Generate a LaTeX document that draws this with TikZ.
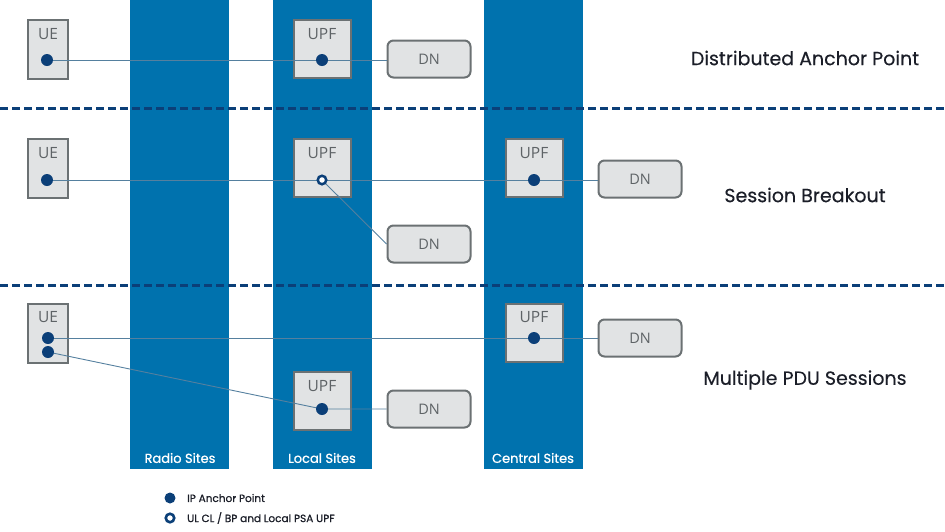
\documentclass[tikz,border=0pt]{standalone}
\usepackage{fontspec}
\setmainfont{Poppins}
\newfontfamily\boxfont{Open Sans}
\newfontfamily\mediumfont[FakeBold=0.8]{Poppins}
\newfontfamily\titlefont[FakeBold=0.3]{Poppins}

\definecolor{siteblue}{HTML}{0072AE}
\definecolor{anchornavy}{HTML}{0B3F78}
\definecolor{linkblue}{HTML}{55809F}
\definecolor{boxfill}{HTML}{E1E3E4}
\definecolor{boxedge}{HTML}{6B7173}
\definecolor{boxtext}{HTML}{5E6366}
\definecolor{headtext}{HTML}{1B1E28}

\tikzset{
  uebox/.style={draw=boxedge, line width=2pt, fill=boxfill, minimum width=40pt, minimum height=59pt, inner sep=0pt},
  upfbox/.style={draw=boxedge, line width=2pt, fill=boxfill, minimum width=57pt, minimum height=58pt, inner sep=0pt},
  dnbox/.style={draw=boxedge, line width=2pt, fill=boxfill, rounded corners=6pt, minimum width=83pt, minimum height=37pt, inner sep=0pt, font=\boxfont\fontsize{14.5}{16}\selectfont, text=boxtext},
  boxlabel/.style={font=\boxfont\fontsize{15.5}{17}\selectfont, text=boxtext, inner sep=0pt},
  ipdot/.style={circle, fill=anchornavy, minimum size=12pt, inner sep=0pt},
  ulcldot/.style={circle, draw=anchornavy, line width=2.5pt, fill=white, minimum size=8.5pt, inner sep=0pt},
  link/.style={draw=linkblue, line width=0.9pt},
  sitelabel/.style={font=\mediumfont\fontsize{13}{15}\selectfont, text=white, inner sep=0pt},
  rowtitle/.style={font=\titlefont\fontsize{19}{22}\selectfont, text=headtext, inner sep=0pt},
  legendtext/.style={font=\mediumfont\fontsize{10.5}{12}\selectfont, text=headtext, anchor=west, inner sep=0pt},
  rowsep/.style={draw=anchornavy, line width=3pt, dash pattern=on 8pt off 4pt}
}

\begin{document}
\begin{tikzpicture}[x=1pt,y=1pt,yscale=-1]
\useasboundingbox (0,0) rectangle (945,531);

% Site columns
\fill[siteblue] (130,0) rectangle (229,469);
\fill[siteblue] (273,0) rectangle (372,469);
\fill[siteblue] (484,0) rectangle (583,469);
\node[sitelabel] (radio) at (180,458) {Radio Sites};
\node[sitelabel] (local) at (322,458) {Local Sites};
\node[sitelabel] (central) at (533,458) {Central Sites};

% Row separators
\draw[rowsep] (0,108) -- (945,108);
\draw[rowsep] (0,285) -- (945,285);

% Row 1: distributed anchor point
\node[uebox] (ue1) at (48,49.5) {};
\node[boxlabel] (ue1txt) at (48,34) {UE};
\node[upfbox] (upf1) at (322.5,49) {};
\node[boxlabel] (upf1txt) at (322,34) {UPF};
\node[dnbox] (dn1) at (429,59) {DN};
\coordinate (ue1pt) at (47,60);
\coordinate (upf1pt) at (322,60);

% Row 2: session breakout
\node[uebox] (ue2) at (48,168) {};
\node[boxlabel] (ue2txt) at (48,153) {UE};
\node[upfbox] (upf2) at (322.5,168) {};
\node[boxlabel] (upf2txt) at (322,153) {UPF};
\node[upfbox] (upf2c) at (534,167.5) {};
\node[boxlabel] (upf2ctxt) at (534,153) {UPF};
\node[dnbox] (dn2c) at (640,179) {DN};
\node[dnbox] (dn2) at (429,244) {DN};
\coordinate (ue2pt) at (47,180);
\coordinate (upf2pt) at (322,180);
\coordinate (upf2cpt) at (534,180);

% Row 3: multiple PDU sessions
\node[uebox] (ue3) at (48,333) {};
\node[boxlabel] (ue3txt) at (48,317) {UE};
\node[upfbox] (upf3c) at (534,332.5) {};
\node[boxlabel] (upf3ctxt) at (534,317) {UPF};
\node[dnbox] (dn3c) at (640,338) {DN};
\node[upfbox] (upf3) at (322.5,401) {};
\node[boxlabel] (upf3txt) at (322,386) {UPF};
\node[dnbox] (dn3) at (429,409) {DN};
\coordinate (ue3apt) at (48,338);
\coordinate (ue3bpt) at (48,352);
\coordinate (upf3cpt) at (534,338);
\coordinate (upf3pt) at (322,409);

% Connectors
\draw[link] (ue1pt) -- (ue1pt -| dn1.west);
\draw[link] (ue2pt) -- (ue2pt -| dn2c.west);
\draw[link] (upf2pt) -- (dn2.west);
\draw[link] (ue3apt) -- (ue3apt -| dn3c.west);
\draw[link] (ue3bpt) -- (upf3pt) -- (upf3pt -| dn3.west);

% Anchor points
\node[ipdot] (ue1dot) at (ue1pt) {};
\node[ipdot] (upf1dot) at (upf1pt) {};
\node[ipdot] (ue2dot) at (ue2pt) {};
\node[ulcldot] (upf2dot) at (upf2pt) {};
\node[ipdot] (upf2cdot) at (upf2cpt) {};
\node[ipdot] (ue3adot) at (ue3apt) {};
\node[ipdot] (ue3bdot) at (ue3bpt) {};
\node[ipdot] (upf3cdot) at (upf3cpt) {};
\node[ipdot] (upf3dot) at (upf3pt) {};

% Row titles
\node[rowtitle] (title1) at (805,58) {Distributed Anchor Point};
\node[rowtitle] (title2) at (805,195) {Session Breakout};
\node[rowtitle] (title3) at (805,380) {Multiple PDU Sessions};

% Legend
\node[ipdot, minimum size=11pt] (legip) at (170,498) {};
\node[legendtext] (legiptxt) at (187,498) {IP Anchor Point};
\node[ulcldot, minimum size=8.5pt, line width=2.6pt] (legulcl) at (170,518) {};
\node[legendtext] (legulcltxt) at (187,518) {UL CL / BP and Local PSA UPF};

\end{tikzpicture}
\end{document}
